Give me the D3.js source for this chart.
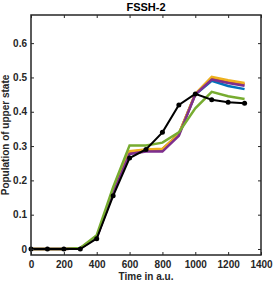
<!DOCTYPE html>
<meta charset="utf-8">
<style>
body { margin: 0; background: #fff; }
text { font-family: "Liberation Sans", Arial, sans-serif; fill: #262626; }
.tick text { font-size: 10px; font-weight: bold; }
</style>
<svg width="273" height="283"></svg>
<script src="https://d3js.org/d3.v7.min.js"></script>
<script>

var times = [0, 100, 200, 300, 400, 500, 600, 700, 800, 900, 1000, 1100, 1200, 1300];
var blue   = [0, 0, 0, 0.002, 0.035, 0.165, 0.280, 0.288, 0.290, 0.335, 0.450, 0.490, 0.475, 0.466];
var red    = [0, 0, 0, 0.002, 0.035, 0.166, 0.282, 0.289, 0.291, 0.335, 0.451, 0.498, 0.488, 0.480];
var yellow = [0, 0, 0, 0.002, 0.035, 0.168, 0.285, 0.290, 0.292, 0.335, 0.452, 0.502, 0.492, 0.484];
var purple = [0, 0, 0, 0.002, 0.033, 0.163, 0.277, 0.284, 0.284, 0.330, 0.450, 0.494, 0.484, 0.476];
var green  = [0, 0, 0, 0.003, 0.040, 0.180, 0.302, 0.302, 0.310, 0.340, 0.410, 0.458, 0.445, 0.437];
var black  = [0, 0, 0, 0, 0.030, 0.155, 0.265, 0.290, 0.340, 0.420, 0.452, 0.435, 0.428, 0.425];
var xTicks = [0, 200, 400, 600, 800, 1000, 1200, 1400];
var yTicks = [0, 0.1, 0.2, 0.3, 0.4, 0.5, 0.6];

var svg = d3.select("svg"),
    mLeft = 31, mRight = 261, mTop = 15, mBottom = 255;

var x = d3.scaleLinear().domain([0, 1400]).range([mLeft, mRight]);
var y = d3.scaleLinear().domain([-0.0175, 0.682]).range([mBottom, mTop]);

var series = [
  {v: blue, c: "#0072BD"},
  {v: red, c: "#D95319"},
  {v: yellow, c: "#EDB120"},
  {v: purple, c: "#7E2F8E"},
  {v: green, c: "#77AC30"}
];

var line = d3.line()
    .x(function(d, i) { return x(times[i]); })
    .y(function(d) { return y(d); });

series.forEach(function(s) {
  svg.append("path")
      .attr("d", line(s.v))
      .attr("fill", "none")
      .attr("stroke", s.c)
      .attr("stroke-width", 2.5);
});

svg.append("path")
    .attr("d", line(black))
    .attr("fill", "none")
    .attr("stroke", "#000")
    .attr("stroke-width", 2);

svg.selectAll(".dot")
  .data(black)
  .enter().append("circle")
    .attr("cx", function(d, i) { return x(times[i]); })
    .attr("cy", function(d) { return y(d); })
    .attr("r", 2.5)
    .attr("fill", "#000");

// axes, ticks inside on all four sides
function ax(g, axis) {
  g.call(axis);
  g.select(".domain").remove();
  g.selectAll("line").attr("stroke", "#262626").attr("stroke-width", 1);
}

svg.append("g").attr("transform", "translate(0," + mBottom + ")")
    .call(ax, d3.axisBottom(x).tickValues(xTicks).tickSize(-3).tickPadding(6).tickFormat(d3.format("d")));
svg.append("g").attr("transform", "translate(0," + mTop + ")")
    .call(ax, d3.axisTop(x).tickValues(xTicks).tickSize(-3).tickFormat(""));
svg.append("g").attr("transform", "translate(" + mLeft + ",0)")
    .call(ax, d3.axisLeft(y).tickValues(yTicks).tickSize(-3).tickPadding(4)
      .tickFormat(function(d) { return d === 0 ? "0" : d3.format(".1f")(d); }));
svg.append("g").attr("transform", "translate(" + mRight + ",0)")
    .call(ax, d3.axisRight(y).tickValues(yTicks).tickSize(-3).tickFormat(""));

svg.append("rect")
    .attr("x", mLeft).attr("y", mTop)
    .attr("width", mRight - mLeft).attr("height", mBottom - mTop)
    .attr("fill", "none")
    .attr("stroke", "#262626")
    .attr("stroke-width", 1.5);

svg.append("text")
    .attr("x", (mLeft + mRight) / 2).attr("y", 11)
    .attr("text-anchor", "middle")
    .style("font-size", "11px").style("font-weight", "bold").style("fill", "#000")
    .text("FSSH-2");

svg.append("text")
    .attr("x", (mLeft + mRight) / 2).attr("y", 280)
    .attr("text-anchor", "middle")
    .style("font-size", "10px").style("font-weight", "bold")
    .text("Time in a.u.");

svg.append("text")
    .attr("transform", "translate(9," + ((mTop + mBottom) / 2) + ") rotate(-90)")
    .attr("text-anchor", "middle")
    .style("font-size", "10px").style("font-weight", "bold")
    .text("Population of upper state");

</script>
